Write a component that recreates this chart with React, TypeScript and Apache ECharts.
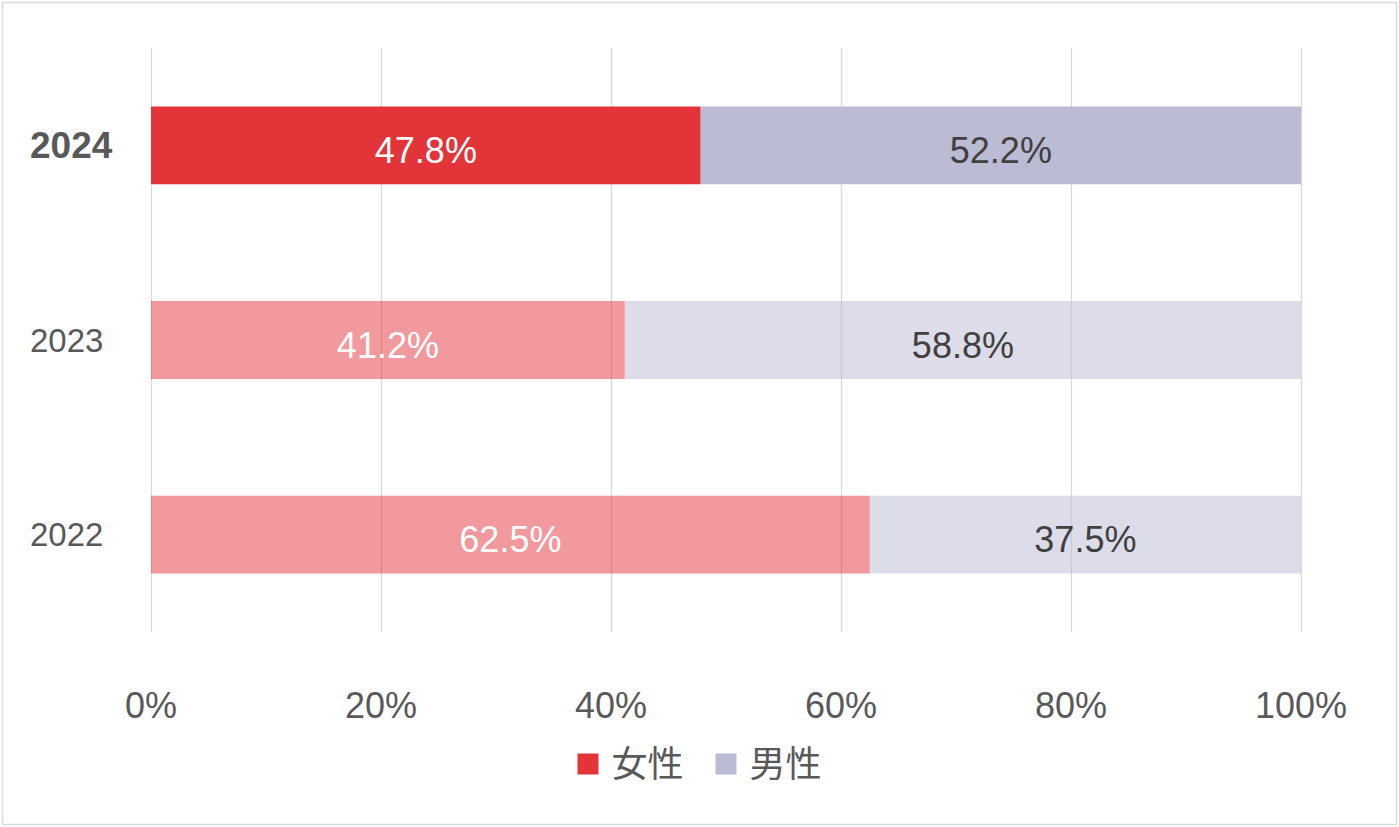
import React, { useEffect, useRef } from "react";
import * as echarts from "echarts";

const categories = ["2022", "2023", "2024"];
const femaleValues = [62.5, 41.2, 47.8];
const maleValues = [37.5, 58.8, 52.2];
const xTicks = [0, 20, 40, 60, 80, 100];
const seriesNames = ["女性", "男性"];

const FONT = "'Liberation Sans', Arial, 'Noto Sans CJK JP', sans-serif";
const TEXT = "#595959";

export default function App() {
  const ref = useRef<HTMLDivElement>(null);
  useEffect(() => {
    if (!ref.current) return;
    const chart = echarts.init(ref.current, undefined, { renderer: "svg" });
    const last = categories.length - 1;
    const mkData = (vals: number[], strong: string, light: string) =>
      vals.map((v, i) => ({
        value: v,
        itemStyle: { color: i === last ? strong : light },
      }));
    chart.setOption({
      animation: false,
      textStyle: { fontFamily: FONT },
      graphic: [
        {
          type: "rect",
          shape: { x: 2.5, y: 2.5, width: 1394, height: 822 },
          style: { fill: "none", stroke: "#d9d9d9", lineWidth: 1.5 },
          silent: true,
        },
      ],
      grid: {
        left: 151,
        right: 98,
        top: 48,
        bottom: 195,
        containLabel: false,
        outerBoundsMode: "none",
      },
      legend: {
        data: seriesNames,
        bottom: 40,
        left: "center",
        itemWidth: 21,
        itemHeight: 21,
        itemGap: 32,
        icon: "rect",
        textStyle: { fontSize: 36, color: TEXT, fontFamily: FONT, padding: [0, 0, 0, 8] },
      },
      xAxis: {
        type: "value",
        min: 0,
        max: 100,
        interval: 20,
        axisLine: { show: false },
        axisTick: { show: false },
        axisLabel: {
          fontSize: 36,
          color: TEXT,
          margin: 55,
          formatter: (v: number) => (xTicks.includes(v) ? v + "%" : ""),
        },
        splitLine: { show: true, lineStyle: { color: "#d9d9d9", width: 1.3 } },
      },
      yAxis: {
        type: "category",
        data: categories.map((c, i) =>
          i === last
            ? {
                value: c,
                textStyle: {
                  fontWeight: "bold",
                  fontSize: 37,
                  align: "left",
                  color: TEXT,
                  padding: [8, 0, 0, 0],
                },
              }
            : { value: c }
        ),
        axisLine: { show: false },
        axisTick: { show: false },
        axisLabel: { fontSize: 33, color: TEXT, align: "left", margin: 121, padding: [8, 0, 0, 0] },
        splitLine: { show: false },
      },
      series: [
        {
          name: seriesNames[0],
          type: "bar",
          stack: "total",
          barWidth: "40%",
          itemStyle: { color: "#E3343A" },
          data: mkData(femaleValues, "#E3343A", "rgba(227,52,58,0.5)"),
          label: {
            show: true,
            position: "inside",
            color: "#ffffff",
            fontSize: 36,
            offset: [0, 5],
            formatter: (p: any) => p.value.toFixed(1) + "%",
          },
        },
        {
          name: seriesNames[1],
          type: "bar",
          stack: "total",
          barWidth: "40%",
          itemStyle: { color: "#BBBBD4" },
          data: mkData(maleValues, "#BBBBD4", "rgba(187,187,212,0.5)"),
          label: {
            show: true,
            position: "inside",
            color: "#404040",
            fontSize: 36,
            offset: [0, 5],
            formatter: (p: any) => p.value.toFixed(1) + "%",
          },
        },
      ],
    });
    return () => chart.dispose();
  }, []);
  return (
    <div
      ref={ref}
      style={{ position: "absolute", left: 0, top: 0, width: 1399, height: 827, background: "#fff" }}
    />
  );
}
